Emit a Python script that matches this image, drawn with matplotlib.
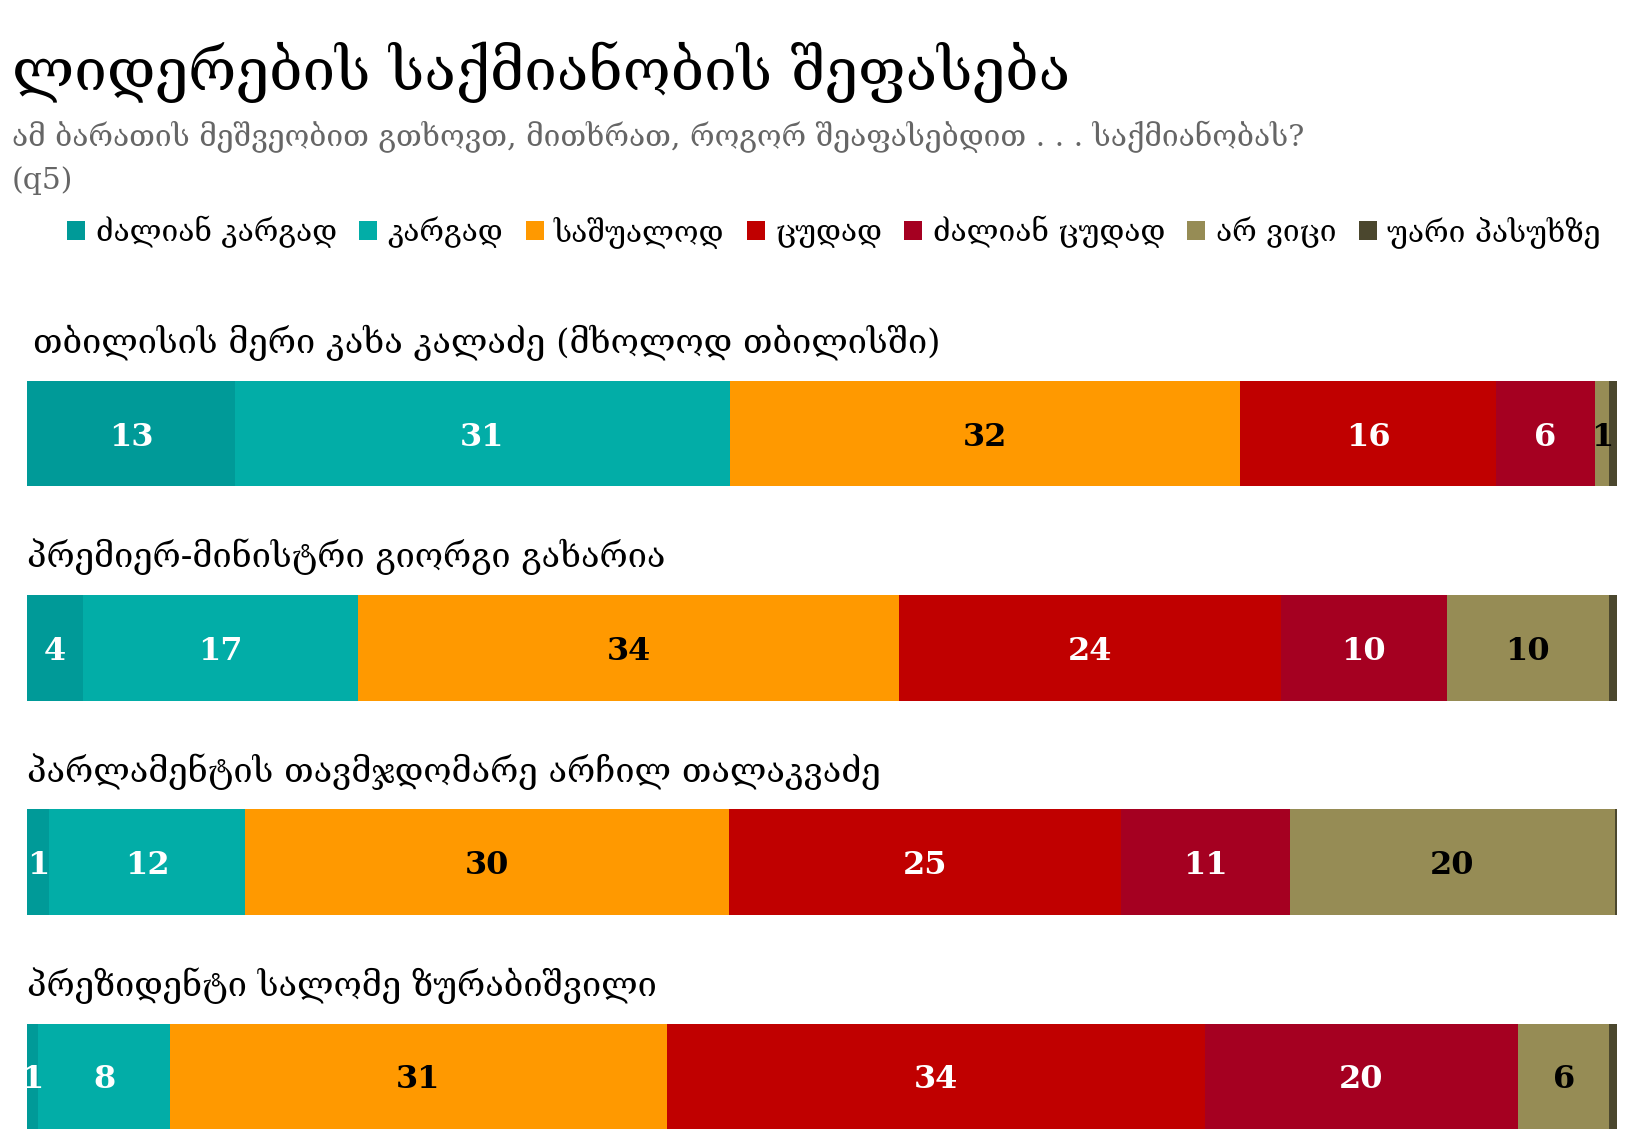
import numpy as np
import matplotlib
matplotlib.use("Agg")
import matplotlib.pyplot as plt
from matplotlib.patches import Patch

# categories / data
title = "ლიდერების საქმიანობის შეფასება"
subtitle = "ამ ბარათის მეშვეობით გთხოვთ, მითხრათ, როგორ შეაფასებდით . . . საქმიანობას?"
subtitle2 = "(q5)"
rows = [
    "თბილისის მერი კახა კალაძე (მხოლოდ თბილისში)",
    "პრემიერ-მინისტრი გიორგი გახარია",
    "პარლამენტის თავმჯდომარე არჩილ თალაკვაძე",
    "პრეზიდენტი სალომე ზურაბიშვილი",
]
answers = ["ძალიან კარგად", "კარგად", "საშუალოდ", "ცუდად",
           "ძალიან ცუდად", "არ ვიცი", "უარი პასუხზე"]
colors = ["#009a98", "#02ada7", "#ff9900", "#c00000",
          "#a50021", "#968c55", "#4b472e"]
text_colors = ["white", "white", "black", "white", "white", "black", "white"]

very_good = [13.1, 3.5, 1.4, 0.7]
good = [31.1, 17.3, 12.3, 8.3]
average = [32.1, 34.0, 30.4, 31.2]
bad = [16.1, 24.0, 24.7, 33.8]
very_bad = [6.2, 10.4, 10.6, 19.7]
dont_know = [0.9, 10.2, 20.4, 5.7]
refused = [0.5, 0.5, 0.15, 0.5]

series = np.array([very_good, good, average, bad, very_bad, dont_know, refused])
share = series / series.sum(axis=0) * 100

W, H = 1638, 1148
fig = plt.figure(figsize=(W / 100, H / 100), dpi=100)
plt.rcParams["font.family"] = ["DejaVu Serif", "DejaVu Sans"]

fig.text(12 / W, 1 - 90 / H, title, fontsize=42, va="baseline")
fig.text(12 / W, 1 - 146 / H, subtitle, fontsize=21.5, color="#666666",
         va="baseline")
fig.text(12 / W, 1 - 189 / H, subtitle2, fontsize=21.5, color="#666666",
         va="baseline")

handles = [Patch(facecolor=c, edgecolor="none") for c in colors]
fig.legend(handles, answers, loc="center", bbox_to_anchor=(834 / W, 1 - 232 / H),
           ncol=7, frameon=False, handlelength=0.6, handleheight=0.6,
           handletextpad=0.35, columnspacing=0.75, prop={"size": 21.5})

ax = fig.add_axes([27 / W, 1 - 1129 / H, (1617 - 27) / W, (1129 - 381) / H])
h = 105.5 / 214.2
y = np.arange(len(rows))
left = np.zeros(len(rows))
for k in range(len(answers)):
    ax.barh(y, share[k], left=left, height=h, color=colors[k], linewidth=0)
    for i in range(len(rows)):
        if series[k, i] >= 0.6:
            ax.text(left[i] + share[k, i] / 2, y[i], str(int(round(series[k, i]))),
                    ha="center", va="center_baseline", color=text_colors[k],
                    fontsize=23, fontweight="bold")
    left += share[k]

for i, name in enumerate(rows):
    ax.annotate(name, xy=(0, y[i] - h / 2), xytext=(4 if i == 0 else 0, 20),
                textcoords="offset points", fontsize=24.7,
                ha="left", va="baseline")

ax.set_xlim(0, 100)
ax.set_ylim(len(rows) - 1 + h / 2, -h / 2)
ax.axis("off")

fig.savefig("out.png", dpi=100)
